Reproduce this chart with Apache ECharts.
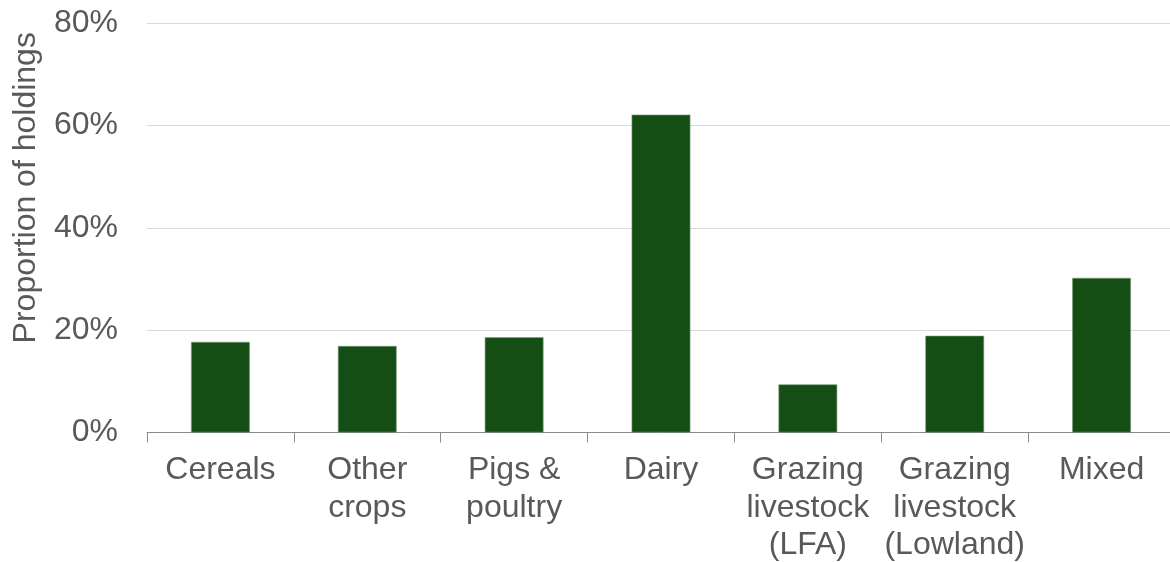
<!DOCTYPE html>
<html>
<head>
<meta charset="utf-8">
<script src="https://cdn.jsdelivr.net/npm/echarts@6/dist/echarts.min.js"></script>
<style>
  html, body { margin: 0; padding: 0; background: #ffffff; }
  #chart { width: 1170px; height: 562px; }
</style>
</head>
<body>
<div id="chart"></div>
<script>
// Farm types (category axis labels, line breaks as drawn)
var farmTypes = [
  'Cereals',
  'Other\ncrops',
  'Pigs &\npoultry',
  'Dairy',
  'Grazing\nlivestock\n(LFA)',
  'Grazing\nlivestock\n(Lowland)',
  'Mixed'
];

// Proportion of holdings, in percent
var holdingsShare = [17.7, 16.9, 18.6, 62.1, 9.4, 18.9, 30.2];

// Value axis ticks
var yTicks = [0, 20, 40, 60, 80];

var chart = echarts.init(document.getElementById('chart'), null, { renderer: 'canvas' });

var textFont = 'Liberation Sans, Arial, sans-serif';

chart.setOption({
  backgroundColor: '#ffffff',
  animation: false,
  grid: {
    left: 147,
    top: 23,
    width: 1028,
    height: 409.5,
    containLabel: false,
    outerBoundsMode: 'none'
  },
  xAxis: {
    type: 'category',
    data: farmTypes,
    axisLine: { show: true, lineStyle: { color: '#8c8c8c', width: 1 } },
    axisTick: { show: true, length: 10, lineStyle: { color: '#8c8c8c', width: 1 } },
    axisLabel: {
      interval: 0,
      margin: 19,
      color: '#595959',
      fontFamily: textFont,
      fontSize: 32,
      lineHeight: 37.5,
      align: 'center',
      verticalAlign: 'top'
    },
    splitLine: { show: false }
  },
  yAxis: {
    type: 'value',
    min: yTicks[0],
    max: yTicks[yTicks.length - 1],
    interval: yTicks[1] - yTicks[0],
    name: 'Proportion of holdings',
    nameLocation: 'middle',
    nameGap: 105,
    nameRotate: 90,
    nameTextStyle: {
      color: '#595959',
      fontFamily: textFont,
      fontSize: 32,
      // lift the title above the plot's vertical centre
      padding: [0, 0, 0, 80]
    },
    axisLine: { show: false },
    axisTick: { show: false },
    axisLabel: {
      margin: 29,
      color: '#595959',
      fontFamily: textFont,
      fontSize: 32,
      formatter: '{value}%'
    },
    splitLine: { show: true, lineStyle: { color: '#d9d9d9', width: 1 } }
  },
  series: [{
    type: 'bar',
    data: holdingsShare,
    barWidth: '40%',
    itemStyle: {
      color: '#154e15',
      borderColor: '#7c9a7c',
      borderWidth: 0.6
    }
  }]
});
</script>
</body>
</html>
